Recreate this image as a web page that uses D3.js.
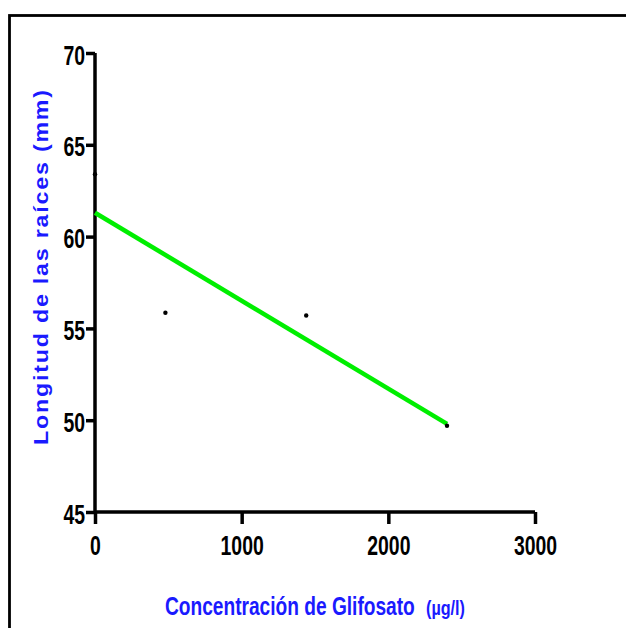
<!DOCTYPE html>
<html>
<head>
<meta charset="utf-8">
<script src="https://cdn.jsdelivr.net/npm/d3@7"></script>
<style>
  html, body { margin: 0; padding: 0; background: #fff; }
  svg { display: block; }
</style>
</head>
<body>
<script>
// Glyphosate concentration (µg/l) vs. root length (mm)
const concentrations = [0, 480, 1440, 2400];
const rootLengths = [63.4, 55.85, 55.7, 49.7];

// Fitted regression line endpoints
const fitX = [0, 2400];
const fitY = [61.3, 49.8];

const xTicks = [0, 1000, 2000, 3000];
const yTicks = [45, 50, 55, 60, 65, 70];

const W = 626, H = 628;
const svg = d3.select("body").append("svg")
  .attr("width", W).attr("height", H);

// Frame around the plot
svg.append("rect")
  .attr("x", 9.5).attr("y", 15.5)
  .attr("width", 640).attr("height", 640)
  .attr("fill", "none").attr("stroke", "#000").attr("stroke-width", 2.8);

const x = d3.scaleLinear().domain([0, 3000]).range([95, 535]);
const y = d3.scaleLinear().domain([45, 70]).range([512, 53]);

const font = "'Liberation Sans', Arial, sans-serif";
// condensed look: squeeze each label to the width of a narrow face
const narrowWidth = s => s.length * 10.8;

// Y axis
const yAxis = svg.append("g")
  .attr("transform", `translate(${x(0)},0)`)
  .call(d3.axisLeft(y).tickValues(yTicks).tickSize(9).tickFormat(d3.format("d")));

// X axis
const xAxis = svg.append("g")
  .attr("transform", `translate(0,${y(45)})`)
  .call(d3.axisBottom(x).tickValues(xTicks).tickSize(12).tickFormat(d3.format("d")));

[yAxis, xAxis].forEach(g => {
  g.select(".domain").attr("stroke", "#000").attr("stroke-width", 3.5);
  g.selectAll(".tick line").attr("stroke", "#000").attr("stroke-width", 3.5);
  g.selectAll(".tick text")
    .attr("fill", "#000")
    .style("font-family", font)
    .style("font-weight", "bold")
    .style("font-size", "28px")
    .attr("textLength", d => narrowWidth(String(d)))
    .attr("lengthAdjust", "spacingAndGlyphs");
});
yAxis.select(".domain").attr("d", `M0,${y(70)}V${y(45)}`);
xAxis.select(".domain").attr("d", `M${x(0)},0H${x(3000)}`);
yAxis.selectAll(".tick text").attr("x", -10).attr("dy", null).attr("y", 11);
xAxis.selectAll(".tick text").attr("dy", null).attr("y", 43);

// Regression line
svg.append("path")
  .datum(fitX.map((v, i) => [v, fitY[i]]))
  .attr("d", d3.line().x(d => x(d[0])).y(d => y(d[1])))
  .attr("fill", "none")
  .attr("stroke", "#00ee00")
  .attr("stroke-width", 4.5);

// Observed points
svg.selectAll("circle.pt")
  .data(concentrations.map((c, i) => [c, rootLengths[i]]))
  .join("circle")
  .attr("class", "pt")
  .attr("cx", d => x(d[0]))
  .attr("cy", d => y(d[1]))
  .attr("r", 2.2)
  .attr("fill", "#000");

// Text scaled horizontally to a target width
function fittedText(str, size, width, place, spacing) {
  const g = svg.append("g");
  const t = g.append("text")
    .style("font-family", font)
    .style("font-weight", "bold")
    .style("font-size", size + "px")
    .style("letter-spacing", (spacing || 0) + "px")
    .attr("fill", "#1a1aff")
    .text(str);
  const k = width / t.node().getComputedTextLength();
  g.attr("transform", place + ` scale(${k},1)`);
  return t;
}

// Axis titles
fittedText("Longitud de las raíces (mm)", 21, 357, "translate(48,445) rotate(-90)", 1.6);
fittedText("Concentración de Glifosato", 25, 250, "translate(165,615)");
fittedText("(µg/l)", 20, 39, "translate(426,615)");
</script>
</body>
</html>
